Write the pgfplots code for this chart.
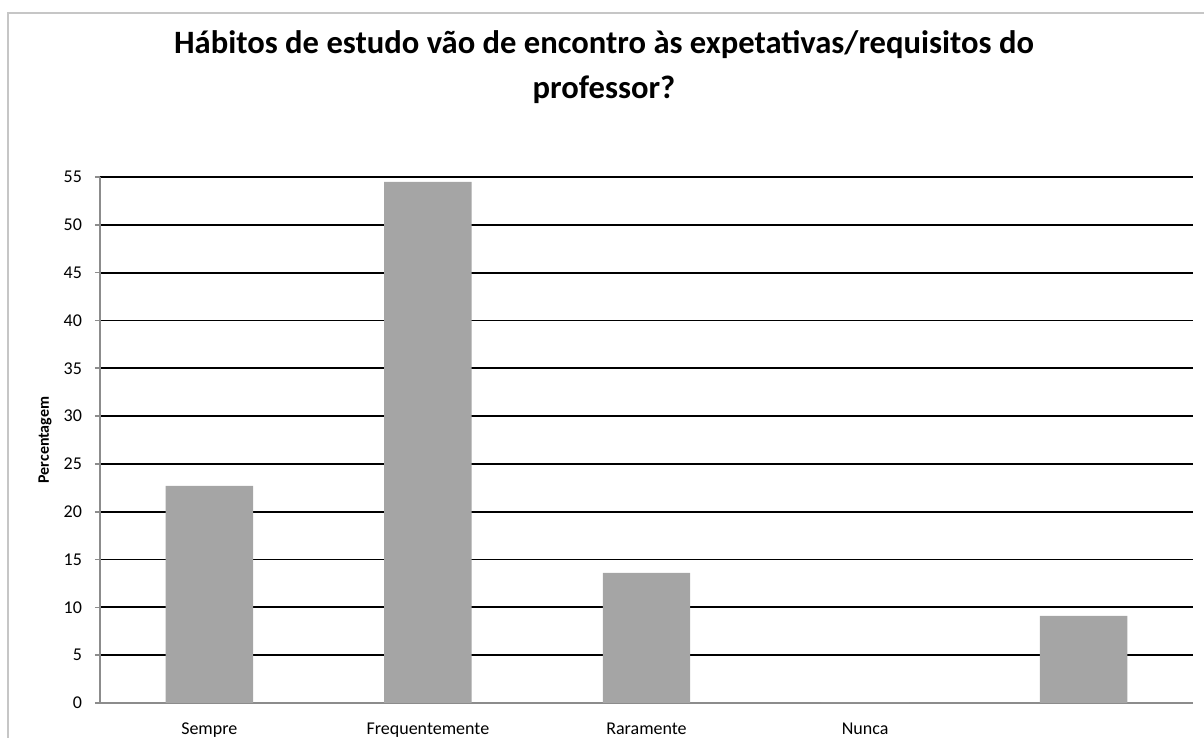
\documentclass[border=0pt]{standalone}
\usepackage{fontspec}
\setmainfont{Carlito}
\usepackage{pgfplots}
\pgfplotsset{compat=1.18}
\definecolor{barg}{HTML}{A5A5A5}
\definecolor{axg}{HTML}{8C8C8C}
\begin{document}
\begin{tikzpicture}[x=1pt,y=1pt]
\path[use as bounding box] (0,0) rectangle (602,369);
\draw[gray!45, line width=0.8pt] (4,0) -- (4,362.5) -- (602,362.5);
\node[font=\bfseries\fontsize{16.3}{22.5}\selectfont, align=center] at (302,335.5)
  {Hábitos de estudo vão de encontro às expetativas/requisitos do\\professor?};
\node[font=\bfseries\fontsize{8}{9}\selectfont, rotate=90] at (22.5,149) {Percentagem};
\begin{axis}[
  at={(50pt,17.5pt)}, anchor=south west,
  scale only axis, width=546.5pt, height=263pt,
  xmin=-0.5, xmax=4.5, ymin=0, ymax=55,
  xtick={0,1,2,3,4},
  xticklabels={Sempre,Frequentemente,Raramente,Nunca,{}},
  ytick={0,5,...,55},
  axis x line*=bottom, axis y line*=left,
  axis line style={axg, line width=0.8pt, -},
  ymajorgrids, grid style={black, line width=0.9pt},
  tick align=outside,
  x tick style={draw=none},
  y tick style={axg, line width=0.8pt},
  major tick length=2.5pt,
  tick label style={font=\fontsize{9}{10}\selectfont},
  xticklabel style={yshift=-4pt},
  yticklabel style={xshift=-3pt},
  /pgf/number format/assume math mode=true,
]
\addplot[ybar, bar width=0.4, fill=barg, draw=none] coordinates {
  (0,22.7) (1,54.5) (2,13.6) (3,0) (4,9.1)
};
\end{axis}
\end{tikzpicture}
\end{document}
